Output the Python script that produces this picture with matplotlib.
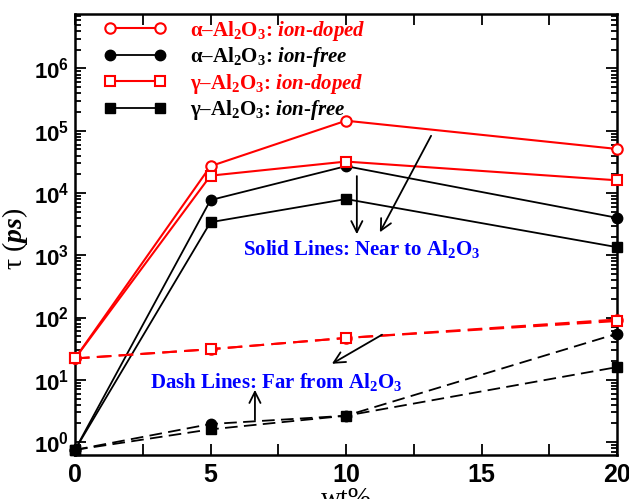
import matplotlib
matplotlib.use("Agg")
import matplotlib.pyplot as plt
from matplotlib.ticker import FixedLocator, FixedFormatter, LogLocator, NullFormatter

plt.rcParams.update({
    "font.family": "Liberation Serif",
    "font.weight": "bold",
    "mathtext.fontset": "custom",
    "mathtext.rm": "Liberation Serif:bold",
    "mathtext.bf": "Liberation Serif:bold",
    "mathtext.it": "Liberation Serif:bold:italic",
    "mathtext.sf": "Liberation Sans:bold",
})

wt = [0, 5, 10, 20]

# Solid lines: near to Al2O3
alpha_doped_near = [22, 27000, 145000, 51000]
alpha_free_near = [0.75, 7700, 27000, 4000]
gamma_doped_near = [22, 19000, 32000, 16000]
gamma_free_near = [0.75, 3400, 8000, 1350]

# Dashed lines: far from Al2O3
alpha_doped_far = [22, 31, 47, 93]
gamma_doped_far = [22, 31, 47, 88]
alpha_free_far = [0.75, 1.95, 2.65, 55]
gamma_free_far = [0.75, 1.6, 2.65, 16]

labels = [r"α–Al$_2$O$_3$: $\mathit{ion}$-$\mathit{doped}$",
          r"α–Al$_2$O$_3$: $\mathit{ion}$-$\mathit{free}$",
          r"γ–Al$_2$O$_3$: $\mathit{ion}$-$\mathit{doped}$",
          r"γ–Al$_2$O$_3$: $\mathit{ion}$-$\mathit{free}$"]

xticks = [0, 5, 10, 15, 20]
yticks = [1, 10, 100, 1000, 1e4, 1e5, 1e6]
ytick_labels = [r"$\mathsf{10^{%d}}$" % i for i in range(7)]

fig = plt.figure(figsize=(6.29, 4.99), dpi=100)
ax = fig.add_axes([75/629, 1-455/499, (617-75)/629, (455-14)/499])
ax.set_yscale("log")

RED = "#ff0000"
lw = 1.5
styles = [
    dict(color=RED, marker="o", mfc="white", mec=RED, mew=1.5, ms=7.5),
    dict(color="black", marker="o", mfc="black", mec="black", ms=7.5, lw=1.3),
    dict(color=RED, marker="s", mfc="white", mec=RED, mew=1.5, ms=6.5),
    dict(color="black", marker="s", mfc="black", mec="black", ms=6.5, lw=1.3),
]
near = [alpha_doped_near, alpha_free_near, gamma_doped_near, gamma_free_near]
far = [alpha_doped_far, alpha_free_far, gamma_doped_far, gamma_free_far]

handles = []
for st, yv, lab in zip(styles, near, labels):
    kw = dict(lw=lw)
    kw.update(st)
    h, = ax.plot(wt, yv, ls="-", label=lab, clip_on=False, zorder=3, **kw)
    handles.append(h)
for st, yv in zip(styles, far):
    kw = dict(lw=lw)
    kw.update(st)
    ax.plot(wt, yv, ls=(0, (7, 3.5)), clip_on=False, zorder=3, **kw)

ax.set_xlim(0, 20)
ax.set_ylim(0.62, 7.5e6)

ax.xaxis.set_major_locator(FixedLocator(xticks))
ax.xaxis.set_major_formatter(FixedFormatter([str(t) for t in xticks]))
ax.xaxis.set_minor_locator(FixedLocator([2.5, 7.5, 12.5, 17.5]))
ax.yaxis.set_major_locator(FixedLocator(yticks))
ax.yaxis.set_major_formatter(FixedFormatter(ytick_labels))
ax.yaxis.set_minor_locator(LogLocator(base=10, subs=range(2, 10), numticks=20))
ax.yaxis.set_minor_formatter(NullFormatter())

ax.tick_params(which="both", direction="in", top=True, right=True, width=1.3)
ax.tick_params(which="major", length=8)
ax.tick_params(axis="x", which="minor", length=8)
ax.tick_params(axis="y", which="minor", length=4)
for lab in ax.get_xticklabels():
    lab.set_fontfamily("Liberation Sans")
    lab.set_fontweight("bold")
    lab.set_fontsize(18)
for lab in ax.get_yticklabels():
    lab.set_fontsize(16)
ax.tick_params(axis="x", pad=6)
ax.tick_params(axis="y", pad=4)
for sp in ax.spines.values():
    sp.set_linewidth(1.8)

ax.set_ylabel(r"τ ($\mathit{ps}$)", fontsize=20)
ax.yaxis.set_label_coords(-0.083, 0.49)
ax.set_xlabel("wt%", fontsize=20, labelpad=0)

leg = ax.legend(handles=handles, loc="upper left", bbox_to_anchor=(0.018, 1.032),
                frameon=False, fontsize=15, numpoints=2, handlelength=3.0,
                handletextpad=1.15, labelspacing=0.12,
                labelcolor=[RED, "black", RED, "black"])

BLUE = "#0000ff"
ax.text(6.2, 1260, r"Solid Lines: Near to Al$_2$O$_3$", color=BLUE, fontsize=15,
        ha="left", va="center")
ax.text(2.77, 9.3, r"Dash Lines: Far from Al$_2$O$_3$", color=BLUE, fontsize=15,
        ha="left", va="center")

arrow = dict(arrowstyle="->,head_length=0.8,head_width=0.4", lw=1.3, color="black",
             shrinkA=0, shrinkB=0)
ax.annotate("", xy=(10.4, 2180), xytext=(10.4, 18700), arrowprops=arrow)
ax.annotate("", xy=(11.25, 2340), xytext=(13.14, 83000), arrowprops=arrow)
ax.annotate("", xy=(9.48, 18.1), xytext=(11.33, 53), arrowprops=arrow)
ax.annotate("", xy=(6.64, 6.9), xytext=(6.64, 2.26), arrowprops=arrow)

fig.savefig("out.png", dpi=100)
